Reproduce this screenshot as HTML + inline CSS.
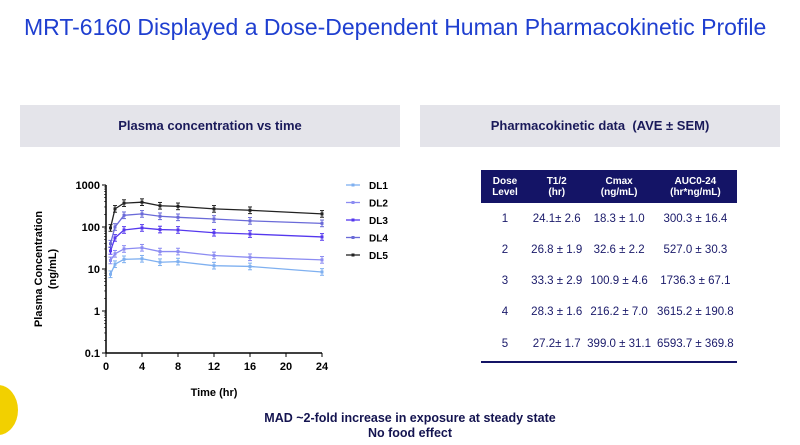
<!DOCTYPE html>
<html><head><meta charset="utf-8"><style>
body{margin:0;width:800px;height:445px;background:#fff;font-family:"Liberation Sans",sans-serif;position:relative;overflow:hidden}
.abs{position:absolute}
.hdr{background:#e4e4ea;font-weight:bold;font-size:13px;color:#1a1a5a;text-align:center;line-height:42px}
table{border-collapse:collapse;font-size:11.5px;color:#1a1a6a}
td{text-align:center;padding:0}
</style></head><body>
<div class="abs" style="left:24px;top:14px;font-size:23px;color:#1f3fd0">MRT-6160 Displayed a Dose-Dependent Human Pharmacokinetic Profile</div>
<div class="abs hdr" style="left:20px;top:105px;width:380px;height:42px">Plasma concentration vs time</div>
<div class="abs hdr" style="left:420px;top:105px;width:360px;height:42px">Pharmacokinetic data &nbsp;(AVE ± SEM)</div>
<svg class="abs" style="left:0;top:0" width="800" height="445" id="chart"></svg>
<div class="abs" style="left:481px;top:170px;width:256px">
<table style="width:256px">
<tr style="background:#141466;color:#fff;font-weight:bold;height:33px;font-size:10px"><td style="width:48px">Dose<br>Level</td><td>T1/2<br>(hr)</td><td>Cmax<br>(ng/mL)</td><td>AUC0-24<br>(hr*ng/mL)</td></tr>
<tr style="height:31px"><td>1</td><td>24.1± 2.6</td><td>18.3 ± 1.0</td><td>300.3 ± 16.4</td></tr>
<tr style="height:31px"><td>2</td><td>26.8 ± 1.9</td><td>32.6 ± 2.2</td><td>527.0 ± 30.3</td></tr>
<tr style="height:31px"><td>3</td><td>33.3 ± 2.9</td><td>100.9 ± 4.6</td><td>1736.3 ± 67.1</td></tr>
<tr style="height:31px"><td>4</td><td>28.3 ± 1.6</td><td>216.2 ± 7.0</td><td>3615.2 ± 190.8</td></tr>
<tr style="height:34px"><td>5</td><td>27.2± 1.7</td><td>399.0 ± 31.1</td><td>6593.7 ± 369.8</td></tr>
</table>
<div style="height:2px;background:#141466"></div>
</div>
<div class="abs" style="left:200px;top:411px;width:420px;text-align:center;font-weight:bold;font-size:12.5px;color:#141450;line-height:15px">MAD ~2-fold increase in exposure at steady state<br>No food effect</div>
<div class="abs" style="left:-22px;top:385px;width:40px;height:50px;border-radius:50%;background:#f2d000"></div>
<script>
const times=[0.5,1,2,4,6,8,12,16,24];
const dl1=[7.5,13,17,17.5,14.5,15,12,11.5,8.5];
const dl2=[16,23,30,32,26,26,21,19,16.5];
const dl3=[27,55,85,95,87,85,73,68,58];
const dl4=[40,100,190,205,180,170,155,140,122];
const dl5=[95,270,370,390,320,310,270,250,205];
const seriesNames=["DL1","DL2","DL3","DL4","DL5"];
const xTicks=[0,4,8,12,16,20,24];
const yTicks=[0.1,1,10,100,1000];
const yTickLabels=["0.1","1","10","100","1000"];
const colors=["#7fb0f0","#8c8cf2","#5538ee","#6a6ad8","#222"];
const S=[dl1,dl2,dl3,dl4,dl5];
const svg=document.getElementById('chart');const NS='http://www.w3.org/2000/svg';
const x0=106,x1=322,yTop=185,yBot=353;
const X=t=>x0+(t/24)*(x1-x0);
const Y=v=>yBot-(Math.log10(v)+1)/4*(yBot-yTop);
function el(n,a,p){const e=document.createElementNS(NS,n);for(const k in a)e.setAttribute(k,a[k]);(p||svg).appendChild(e);return e}
const ax=el('g',{});


el('line',{x1:x0,y1:yTop,x2:x0,y2:yBot,stroke:'#000','stroke-width':1.5},ax);
el('line',{x1:x0,y1:yBot,x2:x1,y2:yBot,stroke:'#000','stroke-width':1.5},ax);
xTicks.forEach(t=>{el('line',{x1:X(t),y1:yBot,x2:X(t),y2:yBot+4,stroke:'#000'},ax);
const tx=el('text',{x:X(t),y:yBot+17,'text-anchor':'middle','font-size':11,'font-weight':'bold'},ax);tx.textContent=t;});
yTicks.forEach((v,i)=>{el('line',{x1:x0-4,y1:Y(v),x2:x0,y2:Y(v),stroke:'#000'},ax);
const tx=el('text',{x:x0-6,y:Y(v)+4,'text-anchor':'end','font-size':11,'font-weight':'bold'},ax);tx.textContent=yTickLabels[i];
if(i<4)for(let m=2;m<10;m++)el('line',{x1:x0-2,y1:Y(v*m),x2:x0,y2:Y(v*m),stroke:'#000','stroke-width':0.6},ax);});
const xt=el('text',{x:214,y:396,'text-anchor':'middle','font-size':11,'font-weight':'bold'},ax);xt.textContent='Time (hr)';
const yt=el('text',{transform:'translate(42,269) rotate(-90)','text-anchor':'middle','font-size':11,'font-weight':'bold'},ax);
yt.innerHTML='<tspan x="0" dy="0">Plasma Concentration</tspan><tspan x="0" dy="14">(ng/mL)</tspan>';
S.forEach((d,si)=>{const g=el('g',{});


el('polyline',{points:d.map((v,i)=>X(times[i])+','+Y(v)).join(' '),fill:'none',stroke:colors[si],'stroke-width':1.3},g);
d.forEach((v,i)=>{const e1=Y(v*1.2),e2=Y(v/1.2),cx=X(times[i]);
el('line',{x1:cx,y1:e1,x2:cx,y2:e2,stroke:colors[si]},g);
el('line',{x1:cx-2,y1:e1,x2:cx+2,y2:e1,stroke:colors[si]},g);
el('line',{x1:cx-2,y1:e2,x2:cx+2,y2:e2,stroke:colors[si]},g);
el('rect',{x:cx-1.5,y:Y(v)-1.5,width:3,height:3,fill:colors[si]},g);});
const lg=el('g',{});


const ly=185+si*17.5;
el('line',{x1:346,y1:ly,x2:360,y2:ly,stroke:colors[si],'stroke-width':1.3},lg);
el('rect',{x:351.5,y:ly-1.5,width:3,height:3,fill:colors[si]},lg);
const t=el('text',{x:369,y:ly+4,'font-size':10,'font-weight':'bold'},lg);t.textContent=seriesNames[si];});
</script>
</body></html>
